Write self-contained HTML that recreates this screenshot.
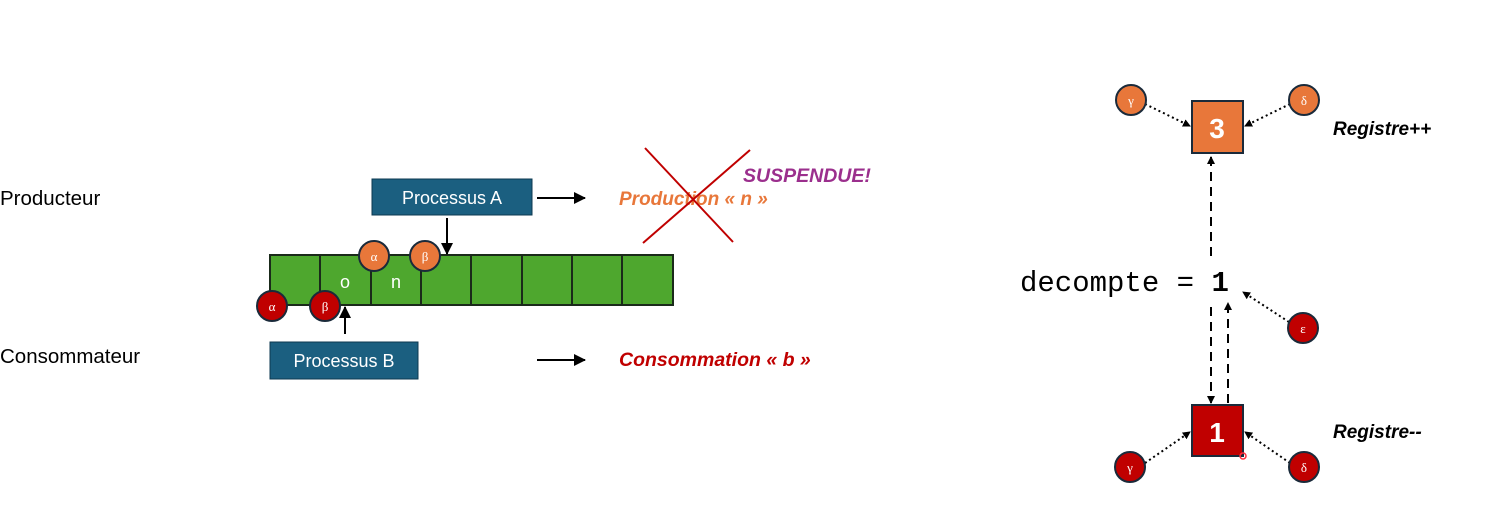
<!DOCTYPE html>
<html><head><meta charset="utf-8"><style>
body{margin:0;background:#fff;}
svg{display:block;font-family:"Liberation Sans",sans-serif;}
</style></head><body>
<svg width="1494" height="509" viewBox="0 0 1494 509">
<defs>
<marker id="ah" markerWidth="8" markerHeight="8" refX="7" refY="4" orient="auto" markerUnits="userSpaceOnUse"><path d="M0,0 L8,4 L0,8z" fill="#000"/></marker>
<marker id="ah2" markerWidth="12" markerHeight="12" refX="11" refY="6" orient="auto" markerUnits="userSpaceOnUse"><path d="M0,0 L12,6 L0,12z" fill="#000"/></marker>
</defs>
<text x="0" y="205" font-size="20.5">Producteur</text>
<text x="0" y="363" font-size="20.5">Consommateur</text>
<g>
<rect x="270" y="255" width="403" height="50" fill="#4ea72e" stroke="#1a2a1a" stroke-width="2"/>
<g stroke="#1a2a1a" stroke-width="2">
<line x1="320" y1="255" x2="320" y2="305"/><line x1="371" y1="255" x2="371" y2="305"/><line x1="421" y1="255" x2="421" y2="305"/><line x1="471" y1="255" x2="471" y2="305"/><line x1="522" y1="255" x2="522" y2="305"/><line x1="572" y1="255" x2="572" y2="305"/><line x1="622" y1="255" x2="622" y2="305"/>
</g>
<text x="345" y="288" font-size="18" fill="#fff" text-anchor="middle">o</text>
<text x="396" y="288" font-size="18" fill="#fff" text-anchor="middle">n</text>
</g>
<g><rect x="372" y="179" width="160" height="36" fill="#1b5f80" stroke="#0e3a50"/><text x="452" y="204" font-size="18" fill="#fff" text-anchor="middle">Processus A</text></g>
<g><rect x="270" y="342" width="148" height="37" fill="#1b5f80" stroke="#0e3a50"/><text x="344" y="367" font-size="18" fill="#fff" text-anchor="middle">Processus B</text></g>
<line x1="447" y1="218" x2="447" y2="254" stroke="#000" stroke-width="2" marker-end="url(#ah2)"/>
<line x1="345" y1="334" x2="345" y2="307" stroke="#000" stroke-width="2" marker-end="url(#ah2)"/>
<line x1="537" y1="198" x2="585" y2="198" stroke="#000" stroke-width="2" marker-end="url(#ah2)"/>
<line x1="537" y1="360" x2="585" y2="360" stroke="#000" stroke-width="2" marker-end="url(#ah2)"/>
<g font-family="Liberation Serif,serif" font-size="13" text-anchor="middle" fill="#fff">
<circle cx="374" cy="256" r="15" fill="#e8773a" stroke="#1a2a3a" stroke-width="2"/><text x="374" y="261">α</text>
<circle cx="425" cy="256" r="15" fill="#e8773a" stroke="#1a2a3a" stroke-width="2"/><text x="425" y="261">β</text>
<circle cx="272" cy="306" r="15" fill="#c00000" stroke="#1a2a3a" stroke-width="2"/><text x="272" y="311">α</text>
<circle cx="325" cy="306" r="15" fill="#c00000" stroke="#1a2a3a" stroke-width="2"/><text x="325" y="311">β</text>
</g>
<text x="619" y="205" font-size="19" font-weight="bold" font-style="italic" fill="#e8773a">Production « n »</text>
<line x1="645" y1="148" x2="733" y2="242" stroke="#c00000" stroke-width="2"/>
<line x1="750" y1="150" x2="643" y2="243" stroke="#c00000" stroke-width="2"/>
<text x="743" y="182" font-size="19.5" font-weight="bold" font-style="italic" fill="#9b2f8d">SUSPENDUE!</text>
<text x="619" y="366" font-size="19.5" font-weight="bold" font-style="italic" fill="#c00000">Consommation « b »</text>

<g><rect x="1192" y="101" width="51" height="52" fill="#e8773a" stroke="#1a2a3a" stroke-width="2"/><text x="1217" y="138" font-size="28" font-weight="bold" fill="#fff" text-anchor="middle">3</text></g>
<g><rect x="1192" y="405" width="51" height="51" fill="#c00000" stroke="#1a2a3a" stroke-width="2"/><text x="1217" y="442" font-size="28" font-weight="bold" fill="#fff" text-anchor="middle">1</text></g>
<text x="1020" y="291" font-size="29" font-family="Liberation Mono,monospace">decompte = <tspan font-weight="bold">1</tspan></text>
<text x="1333" y="135" font-size="19" font-weight="bold" font-style="italic">Registre++</text>
<text x="1333" y="438" font-size="19" font-weight="bold" font-style="italic">Registre--</text>
<g stroke="#000" stroke-width="2" stroke-dasharray="9,6" fill="none">
<line x1="1211" y1="256" x2="1211" y2="157" marker-end="url(#ah)"/>
<line x1="1211" y1="307" x2="1211" y2="403" marker-end="url(#ah)"/>
<line x1="1228" y1="403" x2="1228" y2="303" marker-end="url(#ah)"/>
</g>
<g stroke="#000" stroke-width="2" stroke-dasharray="2,3" fill="none">
<line x1="1145" y1="104" x2="1190" y2="126" marker-end="url(#ah)"/>
<line x1="1290" y1="104" x2="1245" y2="126" marker-end="url(#ah)"/>
<line x1="1289" y1="322" x2="1243" y2="292" marker-end="url(#ah)"/>
<line x1="1145" y1="463" x2="1190" y2="432" marker-end="url(#ah)"/>
<line x1="1290" y1="463" x2="1245" y2="432" marker-end="url(#ah)"/>
</g>
<g font-family="Liberation Serif,serif" font-size="13" text-anchor="middle" fill="#fff">
<circle cx="1131" cy="100" r="15" fill="#e8773a" stroke="#1a2a3a" stroke-width="2"/><text x="1131" y="105">γ</text>
<circle cx="1304" cy="100" r="15" fill="#e8773a" stroke="#1a2a3a" stroke-width="2"/><text x="1304" y="105">δ</text>
<circle cx="1303" cy="328" r="15" fill="#c00000" stroke="#1a2a3a" stroke-width="2"/><text x="1303" y="333">ε</text>
<circle cx="1130" cy="467" r="15" fill="#c00000" stroke="#1a2a3a" stroke-width="2"/><text x="1130" y="472">γ</text>
<circle cx="1304" cy="467" r="15" fill="#c00000" stroke="#1a2a3a" stroke-width="2"/><text x="1304" y="472">δ</text>
</g>
<circle cx="1243" cy="456" r="3" fill="none" stroke="#ff3040" stroke-width="1.5"/>
</svg>
</body></html>
